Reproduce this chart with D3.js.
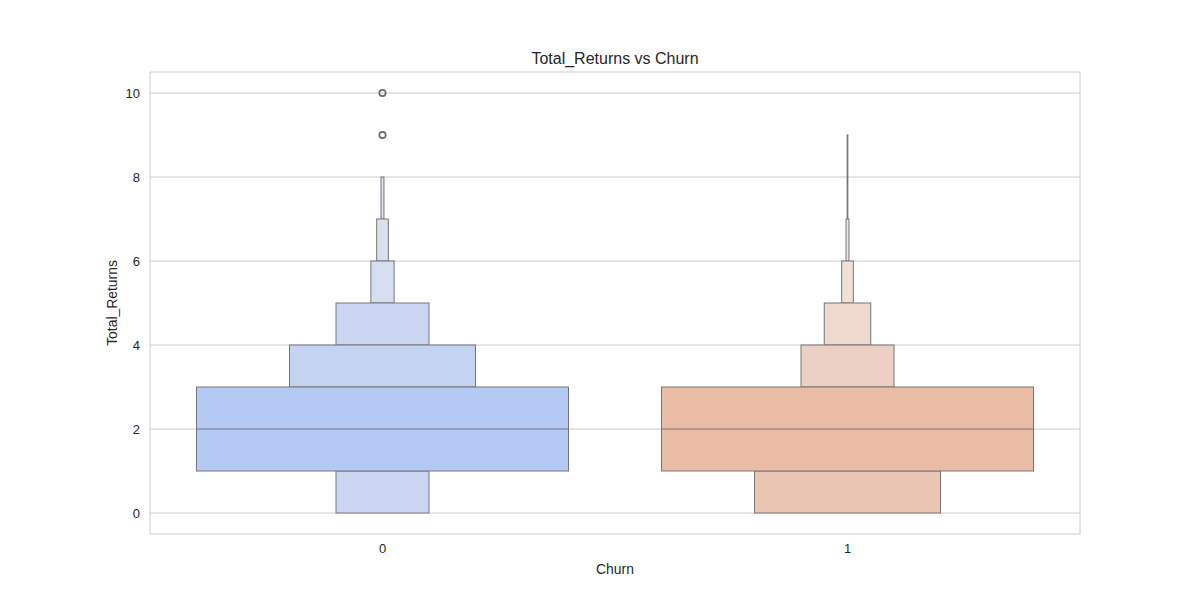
<!DOCTYPE html>
<html>
<head>
<meta charset="utf-8">
<script src="https://cdn.jsdelivr.net/npm/d3@7"></script>
<style>
  body { margin: 0; background: #fff; }
  text { font-family: "Liberation Sans", Arial, sans-serif; fill: #262626; }
</style>
</head>
<body>
<svg id="chart" width="1200" height="600"></svg>
<script>
// ---- data ----
const categories = ["0", "1"];
const medians = [2, 2];
// letter-value levels (k = 0 is the central box); lower and upper bounds per level
const levelLow0  = [1, 1, 0, 0, 0, 0, 0, 0];
const levelHigh0 = [3, 4, 5, 5, 6, 7, 7, 8];
const levelLow1  = [1, 0, 0, 0, 0, 0, 0, 0, 0, 0];
const levelHigh1 = [3, 3, 4, 5, 5, 6, 6, 7, 7, 9];
const outliers0 = [9, 10];
const outliers1 = [];
const yTicks = [0, 2, 4, 6, 8, 10];

// ---- styles ----
const fills0 = ["#b4c9f3", "#c4d3f2", "#cbd7f2", "#d0daf1", "#d5def1", "#d9e0f0", "#dce2ef", "#dfe4ee"];
const fills1 = ["#eabba5", "#eac6b5", "#ecd0c3", "#efd8cd", "#f0ddd3", "#f0e0d8", "#f1e3dd", "#f1e5e0", "#f1e7e3", "#f1e9e6"];
const edge = "#767676";

const boxes = [
  { cat: categories[0], lo: levelLow0, hi: levelHigh0, med: medians[0], out: outliers0, fills: fills0 },
  { cat: categories[1], lo: levelLow1, hi: levelHigh1, med: medians[1], out: outliers1, fills: fills1 }
];

const svg = d3.select("#chart");
const m = { left: 150, right: 120, top: 72, bottom: 66 };
const W = 1200, H = 600;
const x = d3.scaleBand().domain(categories).range([m.left, W - m.right]).paddingInner(0).paddingOuter(0);
const y = d3.scaleLinear().domain([-0.5, 10.5]).range([H - m.bottom, m.top]);
const boxW = x.bandwidth() * 0.8;

// grid
svg.append("g").selectAll("line").data(yTicks).join("line")
  .attr("x1", m.left).attr("x2", W - m.right)
  .attr("y1", d => y(d)).attr("y2", d => y(d))
  .attr("stroke", "#cccccc").attr("stroke-width", 1);

// boxes
boxes.forEach(b => {
  const cx = x(b.cat) + x.bandwidth() / 2;
  const g = svg.append("g");
  const rects = [];
  for (let k = 0; k < b.lo.length; k++) {
    const w = boxW * Math.pow(0.5, k);
    if (k === 0) {
      rects.push({ y0: b.lo[0], y1: b.hi[0], w, k });
    } else {
      if (b.lo[k] !== b.lo[k - 1]) rects.push({ y0: b.lo[k], y1: b.lo[k - 1], w, k });
      if (b.hi[k] !== b.hi[k - 1]) rects.push({ y0: b.hi[k - 1], y1: b.hi[k], w, k });
    }
  }
  rects.sort((a, c) => c.k - a.k);
  g.selectAll("rect").data(rects).join("rect")
    .attr("x", d => cx - d.w / 2)
    .attr("width", d => d.w)
    .attr("y", d => y(d.y1))
    .attr("height", d => y(d.y0) - y(d.y1))
    .attr("fill", d => b.fills[d.k])
    .attr("stroke", edge).attr("stroke-width", 1);
  // median
  g.append("line")
    .attr("x1", cx - boxW / 2).attr("x2", cx + boxW / 2)
    .attr("y1", y(b.med)).attr("y2", y(b.med))
    .attr("stroke", edge).attr("stroke-width", 1);
  // outliers
  g.selectAll("circle").data(b.out).join("circle")
    .attr("cx", cx).attr("cy", d => y(d)).attr("r", 3.2)
    .attr("fill", "none").attr("stroke", "#6a6a6a").attr("stroke-width", 1.7);
});

// spines
svg.append("rect")
  .attr("x", m.left).attr("y", m.top)
  .attr("width", W - m.left - m.right).attr("height", H - m.top - m.bottom)
  .attr("fill", "none").attr("stroke", "#cccccc").attr("stroke-width", 1);

// y ticks
svg.append("g").selectAll("text").data(yTicks).join("text")
  .attr("x", 140).attr("y", d => y(d)).attr("dy", "0.35em")
  .attr("text-anchor", "end").attr("font-size", "13px")
  .text(d => d);

// x ticks
svg.append("g").selectAll("text").data(categories).join("text")
  .attr("x", d => x(d) + x.bandwidth() / 2).attr("y", 553)
  .attr("text-anchor", "middle").attr("font-size", "13px")
  .text(d => d);

// labels
svg.append("text").attr("x", (m.left + W - m.right) / 2).attr("y", 574)
  .attr("text-anchor", "middle").attr("font-size", "13.9px").text("Churn");
svg.append("text")
  .attr("transform", `translate(117, ${(m.top + H - m.bottom) / 2}) rotate(-90)`)
  .attr("text-anchor", "middle").attr("font-size", "13.9px").text("Total_Returns");
svg.append("text").attr("x", (m.left + W - m.right) / 2).attr("y", 64)
  .attr("text-anchor", "middle").attr("font-size", "16px").text("Total_Returns vs Churn");
</script>
</body>
</html>
